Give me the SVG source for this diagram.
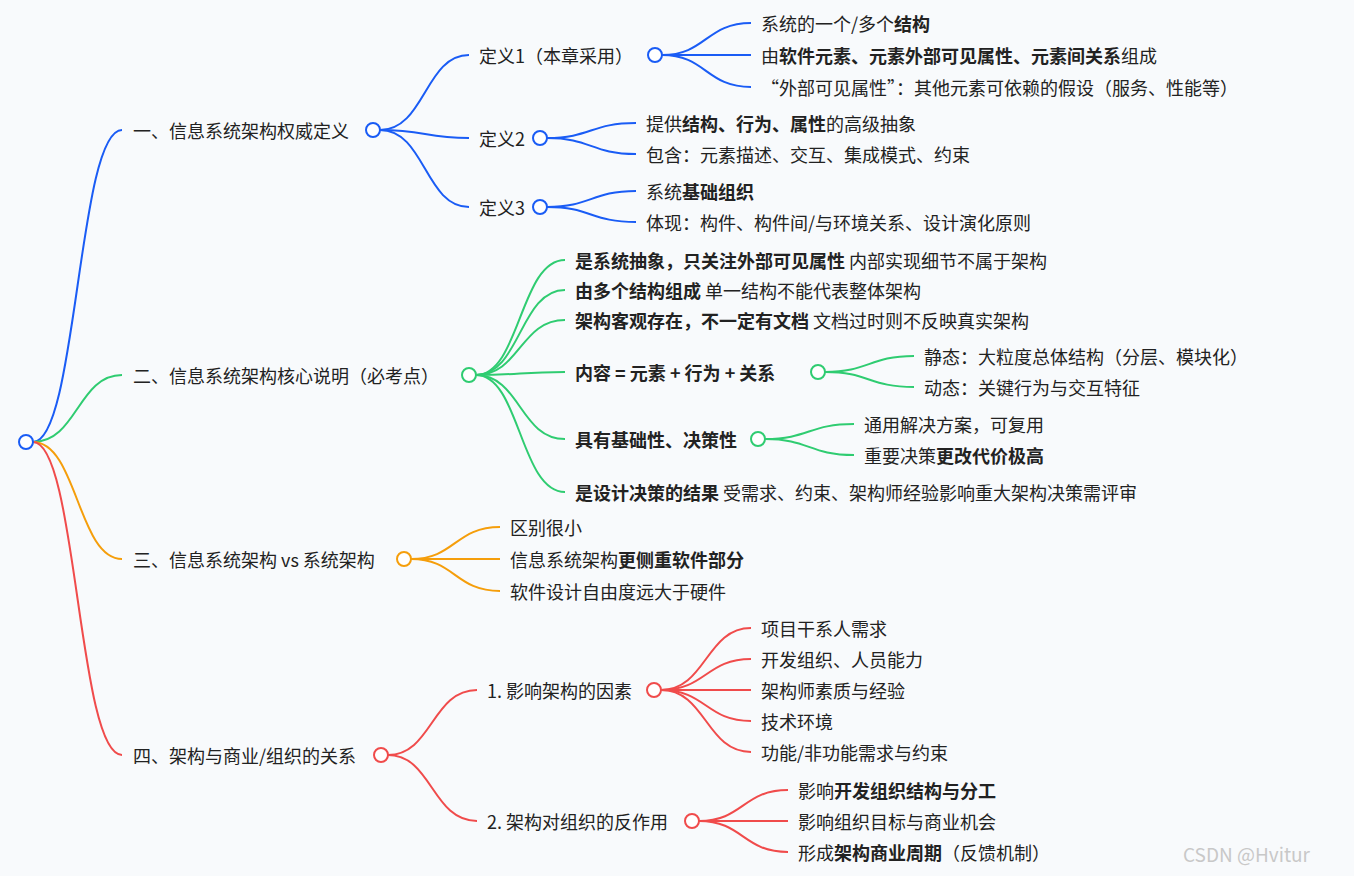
<svg xmlns="http://www.w3.org/2000/svg" width="1354" height="876" viewBox="0 0 1354 876">
<style>
text{font-family:"Noto Sans CJK SC","Microsoft YaHei",sans-serif;font-size:18px;fill:#222;dominant-baseline:central}
b,.b{font-weight:bold}
path{fill:none;stroke-width:2}
circle{fill:#fff;stroke-width:2}
.bl{stroke:#1a5cf5}.gr{stroke:#2fcc71}.or{stroke:#f59e0b}.rd{stroke:#f04b4b}
</style>
<rect width="1354" height="876" fill="#f8fafc"/>
<g id="connectors">
<path class="bl" d="M33,442 C77,442 78,130 122,130"/>
<path class="gr" d="M33,442 C77,442 78,375 122,375"/>
<path class="or" d="M33,442 C77,442 78,559 122,559"/>
<path class="rd" d="M33,442 C77,442 78,755 122,755"/>
<path class="bl" d="M380,130 C425,130 425,55 469,55"/>
<path class="bl" d="M380,130 C425,130 425,138 469,138"/>
<path class="bl" d="M380,130 C425,130 425,207 469,207"/>
<path class="bl" d="M662,55 C706,55 706,23 751,23"/>
<path class="bl" d="M662,55 C706,55 706,55 751,55"/>
<path class="bl" d="M662,55 C706,55 706,87 751,87"/>
<path class="bl" d="M547,138 C591,138 591,123 636,123"/>
<path class="bl" d="M547,138 C591,138 591,154 636,154"/>
<path class="bl" d="M547,207 C591,207 591,191 636,191"/>
<path class="bl" d="M547,207 C591,207 591,222 636,222"/>
<path class="gr" d="M476,375 C520,375 520,260 565,260"/>
<path class="gr" d="M476,375 C520,375 520,290 565,290"/>
<path class="gr" d="M476,375 C520,375 520,320 565,320"/>
<path class="gr" d="M476,375 C520,375 520,372 565,372"/>
<path class="gr" d="M476,375 C520,375 520,439 565,439"/>
<path class="gr" d="M476,375 C520,375 520,492 565,492"/>
<path class="gr" d="M825,372 C869,372 869,356 914,356"/>
<path class="gr" d="M825,372 C869,372 869,387 914,387"/>
<path class="gr" d="M765,439 C809,439 809,424 854,424"/>
<path class="gr" d="M765,439 C809,439 809,455 854,455"/>
<path class="or" d="M411,559 C455,559 455,527 500,527"/>
<path class="or" d="M411,559 C455,559 455,559 500,559"/>
<path class="or" d="M411,559 C455,559 455,591 500,591"/>
<path class="rd" d="M388,755 C432,755 432,690 477,690"/>
<path class="rd" d="M388,755 C432,755 432,821 477,821"/>
<path class="rd" d="M661,690 C706,690 706,628 751,628"/>
<path class="rd" d="M661,690 C706,690 706,659 751,659"/>
<path class="rd" d="M661,690 C706,690 706,690 751,690"/>
<path class="rd" d="M661,690 C706,690 706,721 751,721"/>
<path class="rd" d="M661,690 C706,690 706,752 751,752"/>
<path class="rd" d="M699,821 C743,821 743,790 788,790"/>
<path class="rd" d="M699,821 C743,821 743,821 788,821"/>
<path class="rd" d="M699,821 C743,821 743,852 788,852"/>
</g>
<g id="root"><circle class="bl" cx="26" cy="442" r="7"/></g>
<g id="b1"><text x="133" y="130">一、信息系统架构权威定义</text><circle class="bl" cx="373" cy="130" r="7"/></g>
<g id="d1"><text x="479" y="55">定义1（本章采用）</text><circle class="bl" cx="655" cy="55" r="7"/></g>
<g id="d1a"><text x="761" y="23">系统的一个/多个<tspan class="b">结构</tspan></text></g>
<g id="d1b"><text x="761" y="55">由<tspan class="b">软件元素、元素外部可见属性、元素间关系</tspan>组成</text></g>
<g id="d1c"><text x="761" y="87">“外部可见属性”：其他元素可依赖的假设（服务、性能等）</text></g>
<g id="d2"><text x="479" y="138">定义2</text><circle class="bl" cx="540" cy="138" r="7"/></g>
<g id="d2a"><text x="646" y="123">提供<tspan class="b">结构、行为、属性</tspan>的高级抽象</text></g>
<g id="d2b"><text x="646" y="154">包含：元素描述、交互、集成模式、约束</text></g>
<g id="d3"><text x="479" y="207">定义3</text><circle class="bl" cx="540" cy="207" r="7"/></g>
<g id="d3a"><text x="646" y="191">系统<tspan class="b">基础组织</tspan></text></g>
<g id="d3b"><text x="646" y="222">体现：构件、构件间/与环境关系、设计演化原则</text></g>
<g id="b2"><text x="133" y="375">二、信息系统架构核心说明（必考点）</text><circle class="gr" cx="469" cy="375" r="7"/></g>
<g id="c1"><text x="575" y="260"><tspan class="b">是系统抽象，只关注外部可见属性</tspan> 内部实现细节不属于架构</text></g>
<g id="c2"><text x="575" y="290"><tspan class="b">由多个结构组成</tspan> 单一结构不能代表整体架构</text></g>
<g id="c3"><text x="575" y="320"><tspan class="b">架构客观存在，不一定有文档</tspan> 文档过时则不反映真实架构</text></g>
<g id="c4"><text x="575" y="372" class="b">内容 = 元素 + 行为 + 关系</text><circle class="gr" cx="818" cy="372" r="7"/></g>
<g id="c4a"><text x="924" y="356">静态：大粒度总体结构（分层、模块化）</text></g>
<g id="c4b"><text x="924" y="387">动态：关键行为与交互特征</text></g>
<g id="c5"><text x="575" y="439" class="b">具有基础性、决策性</text><circle class="gr" cx="758" cy="439" r="7"/></g>
<g id="c5a"><text x="864" y="424">通用解决方案，可复用</text></g>
<g id="c5b"><text x="864" y="455">重要决策<tspan class="b">更改代价极高</tspan></text></g>
<g id="c6"><text x="575" y="492"><tspan class="b">是设计决策的结果</tspan> 受需求、约束、架构师经验影响重大架构决策需评审</text></g>
<g id="b3"><text x="133" y="559">三、信息系统架构 vs 系统架构</text><circle class="or" cx="404" cy="559" r="7"/></g>
<g id="e1"><text x="510" y="527">区别很小</text></g>
<g id="e2"><text x="510" y="559">信息系统架构<tspan class="b">更侧重软件部分</tspan></text></g>
<g id="e3"><text x="510" y="591">软件设计自由度远大于硬件</text></g>
<g id="b4"><text x="133" y="755">四、架构与商业/组织的关系</text><circle class="rd" cx="381" cy="755" r="7"/></g>
<g id="f1"><text x="487" y="690">1. 影响架构的因素</text><circle class="rd" cx="654" cy="690" r="7"/></g>
<g id="f1a"><text x="761" y="628">项目干系人需求</text></g>
<g id="f1b"><text x="761" y="659">开发组织、人员能力</text></g>
<g id="f1c"><text x="761" y="690">架构师素质与经验</text></g>
<g id="f1d"><text x="761" y="721">技术环境</text></g>
<g id="f1e"><text x="761" y="752">功能/非功能需求与约束</text></g>
<g id="f2"><text x="487" y="821">2. 架构对组织的反作用</text><circle class="rd" cx="692" cy="821" r="7"/></g>
<g id="f2a"><text x="798" y="790">影响<tspan class="b">开发组织结构与分工</tspan></text></g>
<g id="f2b"><text x="798" y="821">影响组织目标与商业机会</text></g>
<g id="f2c"><text x="798" y="852">形成<tspan class="b">架构商业周期</tspan>（反馈机制）</text></g>
<text x="1183" y="853" style="fill:#c8c8c8;font-size:19px">CSDN @Hvitur</text>
</svg>
